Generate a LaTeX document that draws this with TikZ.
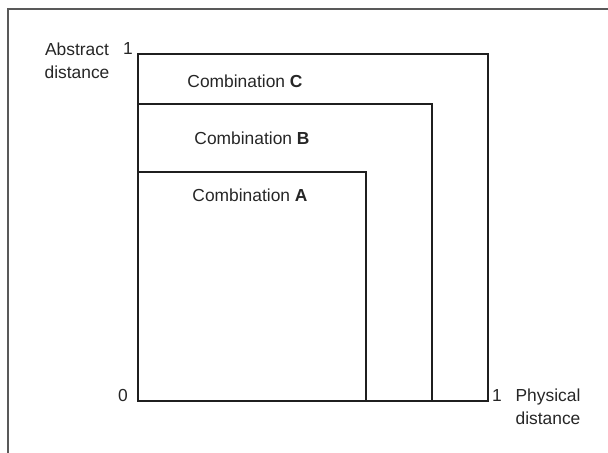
\documentclass[tikz,border=0pt]{standalone}
\usepackage{fontspec}
\setmainfont{Liberation Sans}
\usepackage{tikz}
\usetikzlibrary{positioning}

\tikzset{
  lbl/.style={inner sep=0pt, text=black!85, font=\fontsize{8.7}{11.5}\selectfont},
  combo/.style={lbl, anchor=base},
  region/.style={draw=black!88, line width=1.1pt},
}

\begin{document}
\begin{tikzpicture}[x=0.5pt, y=-0.5pt]
        \useasboundingbox (0,0) rectangle (608,453);
        % frame (only top and left edges visible)
        \draw[black!65, line width=0.8pt] (608,9) -- (8,9) -- (8,453);
        % origin and the three regions
        \coordinate (o) at (138,401);
        \coordinate (cC) at (488,54);
        \coordinate (cB) at (432,104);
        \coordinate (cA) at (366,172);
        \draw[region] (o) rectangle (cC);
        \draw[region] (o) rectangle (cB);
        \draw[region] (o) rectangle (cA);
        % labels
        \node[combo] (labC) at (245,88) {Combination \textbf{C}};
        \node[combo] (labB) at (252,145) {Combination \textbf{B}};
        \node[combo] (labA) at (250,202) {Combination \textbf{A}};
        \node[combo] (zero) at (123,401) {0};
        \node[combo] (oneY) at (128,55) {1};
        \node[combo] (oneX) at (497,401) {1};
        \node[lbl, align=center] (yax) at (77,61) {Abstract\\distance};
        \node[lbl, align=center] (xax) at (548,407) {Physical\\distance};
\end{tikzpicture}
\end{document}
